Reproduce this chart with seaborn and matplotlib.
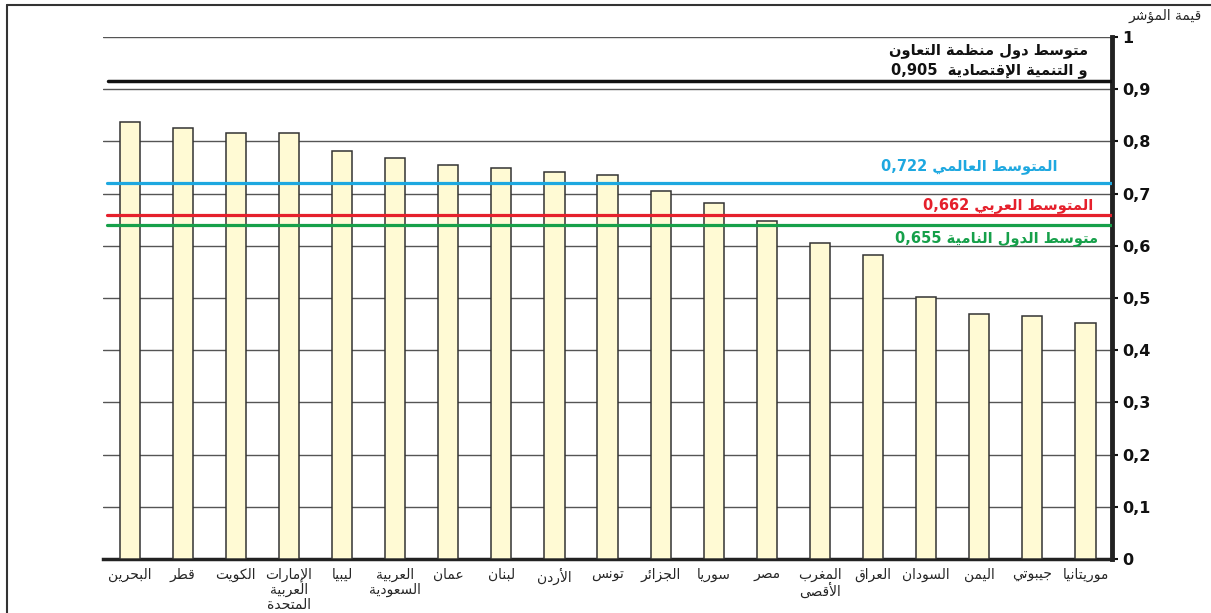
"""Arab human development index bar chart with reference averages."""

import re

import matplotlib
matplotlib.use("Agg")
import pandas as pd
import seaborn as sns
from matplotlib import pyplot as plt
from matplotlib.lines import Line2D
from matplotlib.transforms import blended_transform_factory


countries = [
    "البحرين", "قطر", "الكويت", "الإمارات\nالعربية\nالمتحدة", "ليبيا",
    "العربية\nالسعودية", "عمان", "لبنان", "الأردن", "تونس", "الجزائر",
    "سوريا", "مصر", "المغرب\nالأقصى", "العراق", "السودان", "اليمن",
    "جيبوتي", "موريتانيا",
]
index_values = [
    0.837, 0.826, 0.816, 0.816, 0.782, 0.768, 0.755, 0.749, 0.741, 0.736,
    0.705, 0.682, 0.648, 0.605, 0.582, 0.502, 0.469, 0.466, 0.452,
]

avg_names = ["المتوسط العالمي", "المتوسط العربي", "متوسط الدول النامية"]
avg_values = ["0,722", "0,662", "0,655"]
avg_levels = [0.720, 0.659, 0.640]
avg_colors = ["#1EA8E0", "#E5202C", "#16A04A"]

oecd_lines = ["متوسط دول منظمة التعاون", "و التنمية الإقتصادية  0,905"]
oecd_level = 0.916

y_ticks = [0, 0.1, 0.2, 0.3, 0.4, 0.5, 0.6, 0.7, 0.8, 0.9, 1]
y_label = "قيمة المؤشر"


# --- minimal Arabic shaping (presentation forms) + visual reordering ---
_LETTERS = "ءآأؤإئابةتثجحخدذرزسشصضطظعغفقكلمنهوىي"
_RIGHT_ONLY = set("آأؤإاةدذرزوى")
FORMS = {}
_code = 0xFE80
for _ch in _LETTERS:
    _n = 1 if _ch == "ء" else (2 if _ch in _RIGHT_ONLY else 4)
    FORMS[_ch] = ([chr(_code + k) for k in range(_n)], _n)
    _code += _n
LAM_ALEF = {"آ": 0xFEF5, "أ": 0xFEF7, "إ": 0xFEF9, "ا": 0xFEFB}


def shape_line(text: str) -> str:
    units = []
    i = 0
    while i < len(text):
        ch = text[i]
        if ch == "ل" and i + 1 < len(text) and text[i + 1] in LAM_ALEF:
            base = LAM_ALEF[text[i + 1]]
            units.append(([chr(base), chr(base + 1)], 2))
            i += 2
            continue
        units.append(FORMS.get(ch, ([ch], 0)))
        i += 1
    out = []
    for j, (forms, kind) in enumerate(units):
        prev_kind = units[j - 1][1] if j > 0 else 0
        next_kind = units[j + 1][1] if j + 1 < len(units) else 0
        join_prev = kind >= 2 and prev_kind == 4
        join_next = kind == 4 and next_kind >= 2
        if join_prev and join_next:
            out.append(forms[3])
        elif join_prev:
            out.append(forms[1])
        elif join_next:
            out.append(forms[2])
        else:
            out.append(forms[0])
    shaped = "".join(out)
    parts = re.split(r"([0-9][0-9,.]*)", shaped)
    return "".join(p if re.match(r"[0-9]", p) else p[::-1] for p in reversed(parts))


def ar(text: str) -> str:
    return "\n".join(shape_line(line) for line in text.split("\n"))


sns.set_style("white")
plt.rcParams["font.family"] = ["DejaVu Sans"]

fig = plt.figure(figsize=(12.11, 6.13), dpi=100)
ax = fig.add_axes([0.0851, 0.0881, 0.8332, 0.8515])

df = pd.DataFrame({"country": [ar(c) for c in countries], "value": index_values})
sns.barplot(
    data=df, x="country", y="value", ax=ax, color="#FFFAD4", saturation=1,
    width=0.38, edgecolor="#333333", linewidth=1.1, zorder=3,
)

ax.set_ylim(0, 1)
ax.set_xlim(-0.5, len(countries) - 0.5)
ax.set_xlabel("")
ax.set_ylabel("")
ax.set_yticks(y_ticks)
ax.set_yticklabels([f"{t:g}".replace(".", ",") for t in y_ticks], fontsize=11.5, fontweight="bold")
ax.yaxis.tick_right()
ax.tick_params(axis="y", length=4, width=1.5, pad=3, colors="#111111")
ax.tick_params(axis="x", length=0, pad=6, labelsize=10)
for lbl in ax.get_xticklabels():
    lbl.set_linespacing(1.1)
ax.yaxis.grid(True, color="#555555", linewidth=1)
ax.set_axisbelow(True)

for side in ("left", "top"):
    ax.spines[side].set_visible(False)
ax.spines["right"].set_linewidth(3.5)
ax.spines["right"].set_color("#222222")
ax.spines["bottom"].set_linewidth(2.5)
ax.spines["bottom"].set_color("#222222")

# reference averages
ax.axhline(oecd_level, xmin=0.005, xmax=1, color="#111111", lw=2.5, zorder=4)
for level, color in zip(avg_levels, avg_colors):
    ax.axhline(level, xmin=0.004, xmax=1, color=color, lw=2.3, zorder=4)

trans = blended_transform_factory(ax.transAxes, ax.transData)
ax.text(0.976, 0.975, ar(oecd_lines[0]), transform=trans, ha="right", va="center",
        fontsize=10.5, fontweight="bold", color="#111111")
ax.text(0.976, 0.937, ar(oecd_lines[1]), transform=trans, ha="right", va="center",
        fontsize=10.5, fontweight="bold", color="#111111")

label_x = [0.946, 0.981, 0.986]
label_y = [0.753, 0.678, 0.615]
for name, val, color, lx, ly in zip(avg_names, avg_values, avg_colors, label_x, label_y):
    ax.text(lx, ly, ar(f"{name} {val}"), transform=trans, ha="right", va="center",
            fontsize=10.5, fontweight="bold", color=color)

fig.text(1165 / 1211, 1 - 16 / 613, ar(y_label), ha="center", va="center", fontsize=10)

# outer frame (left and top edges)
fig.add_artist(Line2D([7 / 1211, 7 / 1211], [0, 1 - 5 / 613], transform=fig.transFigure,
                      color="#333333", lw=1.5))
fig.add_artist(Line2D([7 / 1211, 1], [1 - 5 / 613, 1 - 5 / 613], transform=fig.transFigure,
                      color="#333333", lw=1.5))

fig.savefig("out.png", dpi=100)
